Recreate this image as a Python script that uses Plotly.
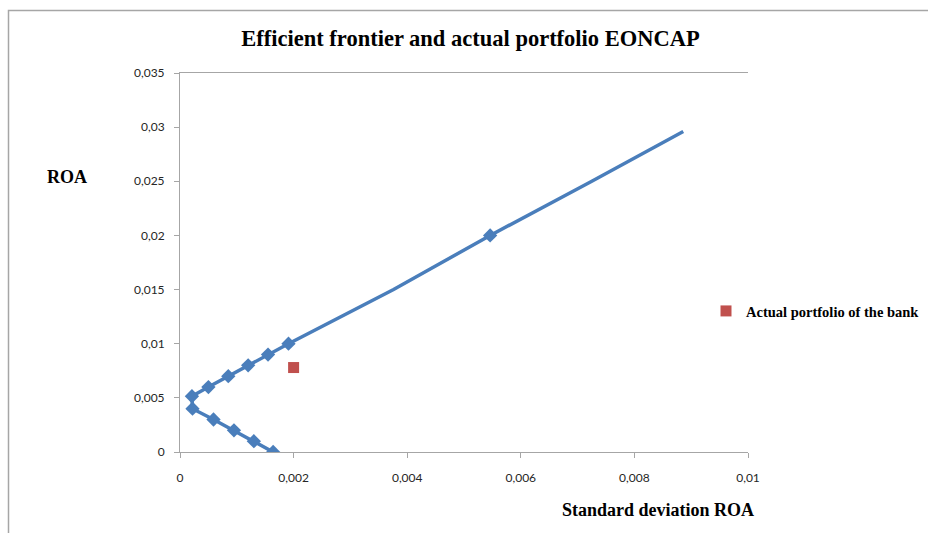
import plotly.graph_objects as go

# Efficient frontier: standard deviation of ROA (x) vs expected ROA (y)
frontier_sd = [0.00164, 0.00130, 0.00095, 0.00059, 0.00022, 0.00021, 0.00050,
               0.00085, 0.00120, 0.00155, 0.00191, 0.00376, 0.00546, 0.00725, 0.00886]
frontier_roa = [0.0, 0.001, 0.002, 0.003, 0.004, 0.00515, 0.006,
                0.007, 0.008, 0.009, 0.010, 0.015, 0.020, 0.025, 0.0296]
# points drawn with a visible diamond marker
frontier_marked = [True, True, True, True, True, True, True,
                   True, True, True, True, False, True, False, False]

# Actual portfolio of the bank
actual_sd = [0.0020]
actual_roa = [0.0078]

x_ticks = [0, 0.002, 0.004, 0.006, 0.008, 0.01]
x_tick_text = ["0", "0,002", "0,004", "0,006", "0,008", "0,01"]
y_ticks = [0, 0.005, 0.01, 0.015, 0.02, 0.025, 0.03, 0.035]
y_tick_text = ["0", "0,005", "0,01", "0,015", "0,02", "0,025", "0,03", "0,035"]

BLUE = "#4a7ebb"
RED = "#c0504d"
AXIS = "#a6a6a6"
SERIF = "Liberation Serif, Times New Roman, serif"
TICKFONT = dict(family="Lato, Open Sans, sans-serif", size=12, color="#262626")

fig = go.Figure()

fig.add_trace(go.Scatter(
    x=frontier_sd, y=frontier_roa,
    mode="lines+markers",
    line=dict(color=BLUE, width=3.5),
    marker=dict(symbol="diamond", color=BLUE, opacity=1,
                line=dict(width=0),
                size=[11 if m else 0 for m in frontier_marked]),
    name="Efficient frontier",
    showlegend=False,
    hoverinfo="x+y",
))

fig.add_trace(go.Scatter(
    x=actual_sd, y=actual_roa,
    mode="markers",
    marker=dict(symbol="square", color=RED, size=11, line=dict(width=0)),
    name="Actual portfolio of the bank",
))

fig.update_layout(
    width=928, height=533,
    margin=dict(l=180, r=180, t=73, b=81, autoexpand=False),
    paper_bgcolor="white",
    plot_bgcolor="white",
    title=dict(
        text="<b>Efficient frontier and actual portfolio EONCAP</b>",
        font=dict(family=SERIF, size=22.5, color="black"),
        x=0.507, xanchor="center", y=1 - 38 / 533, yanchor="middle",
    ),
    xaxis=dict(
        range=[0, 0.01],
        tickvals=x_ticks, ticktext=x_tick_text,
        showgrid=False, zeroline=False,
        showline=True, linecolor=AXIS, linewidth=1,
        ticks="outside", ticklen=5, tickcolor=AXIS,
        tickfont=TICKFONT, ticklabelstandoff=10,
        mirror=True,
    ),
    yaxis=dict(
        range=[0, 0.035],
        tickvals=y_ticks, ticktext=y_tick_text,
        showgrid=False, zeroline=False,
        showline=True, linecolor=AXIS, linewidth=1,
        ticks="outside", ticklen=5, tickcolor=AXIS,
        tickfont=TICKFONT, ticklabelstandoff=7,
    ),
    legend=dict(
        x=(706 - 180) / 568, xanchor="left",
        y=(452 - 311) / 379, yanchor="middle",
        font=dict(family=SERIF, size=14.5, color="black", weight="bold"),
        bgcolor="rgba(0,0,0,0)",
        itemwidth=30,
    ),
    annotations=[
        dict(text="<b>ROA</b>", xref="paper", yref="paper",
             x=(67 - 180) / 568, y=(452 - 177) / 379,
             xanchor="center", yanchor="middle", showarrow=False,
             font=dict(family=SERIF, size=18, color="black")),
        dict(text="<b>Standard deviation ROA</b>", xref="paper", yref="paper",
             x=(658 - 180) / 568, y=-(510 - 452) / 379,
             xanchor="center", yanchor="middle", showarrow=False,
             font=dict(family=SERIF, size=18, color="black")),
    ],
    shapes=[
        # chart area border
        dict(type="rect", xref="paper", yref="paper",
             x0=(8.5 - 180) / 568, x1=(940 - 180) / 568,
             y0=-(545 - 452) / 379, y1=(452 - 10.5) / 379,
             line=dict(color="#a6a6a6", width=1.5), layer="below"),
    ],
)

fig.write_html("out.html")
